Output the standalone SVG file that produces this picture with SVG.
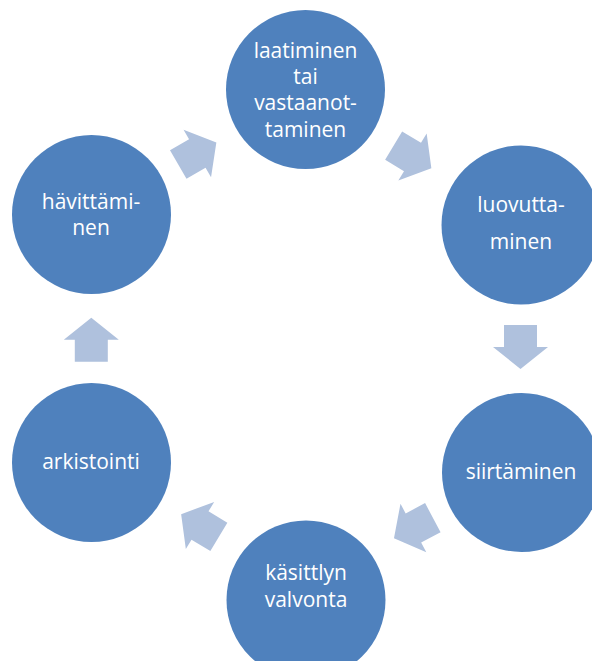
<svg xmlns="http://www.w3.org/2000/svg" width="592" height="661" viewBox="0 0 592 661">
<defs>
<style>
.node circle{fill:#4F81BD}
.node text{fill:#FFFFFF;font-family:"Open Sans","Noto Sans","Liberation Sans",sans-serif;font-size:21px;text-anchor:middle}
.arrow{fill:#AFC1DD}
</style>
<polygon id="arr" class="arrow" points="-22,-16.5 0,-16.5 0,-27.5 22,0 0,27.5 0,16.5 -22,16.5"/>
</defs>
<rect width="592" height="661" fill="#FFFFFF"/>
<g id="connectors">
<use href="#arr" transform="translate(412.5,157) rotate(31)"/>
<use href="#arr" transform="translate(520.5,347) rotate(90)"/>
<use href="#arr" transform="translate(413.4,528) rotate(152)"/>
<use href="#arr" transform="translate(200,525.5) rotate(211)"/>
<use href="#arr" transform="translate(91.3,339.7) rotate(270)"/>
<use href="#arr" transform="translate(197.3,153.5) rotate(330)"/>
</g>
<g id="node-laatiminen" class="node">
<circle cx="305.5" cy="89.5" r="79.5"/>
<text x="305.5" y="58">laatiminen</text>
<text x="305.5" y="84">tai</text>
<text x="305.5" y="110">vastaanot-</text>
<text x="305.5" y="136.5">taminen</text>
</g>
<g id="node-luovuttaminen" class="node">
<circle cx="521" cy="225" r="79.5"/>
<text x="521" y="211.5">luovutta-</text>
<text x="521" y="249">minen</text>
</g>
<g id="node-siirtaminen" class="node">
<circle cx="521.5" cy="472.5" r="79.5"/>
<text x="521" y="478.5">siirtäminen</text>
</g>
<g id="node-kasittelyn" class="node">
<circle cx="306" cy="600" r="79.5"/>
<text x="306" y="580">käsittlyn</text>
<text x="306" y="606.5">valvonta</text>
</g>
<g id="node-arkistointi" class="node">
<circle cx="91.5" cy="462.5" r="79.5"/>
<text x="91" y="468.5">arkistointi</text>
</g>
<g id="node-havittaminen" class="node">
<circle cx="91.5" cy="214.5" r="79.5"/>
<text x="91" y="208.5">hävittämi-</text>
<text x="91" y="235">nen</text>
</g>
</svg>
